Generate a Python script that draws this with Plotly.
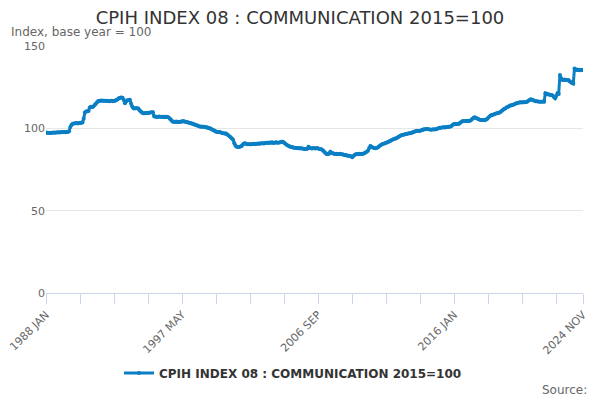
import plotly.graph_objects as go

MONTHS = ["JAN", "FEB", "MAR", "APR", "MAY", "JUN", "JUL", "AUG", "SEP", "OCT", "NOV", "DEC"]

# Monthly index values, one row per year (1988 .. 2024 Nov)
v1988 = [97.4, 97.3, 97.2, 97.3, 97.2, 97.3, 97.4, 97.3, 97.4, 97.5, 97.6, 97.5]
v1989 = [97.6, 97.7, 97.6, 97.8, 97.6, 97.7, 97.8, 98.2, 100.8, 102.2, 102.8, 103.0]
v1990 = [103.1, 103.2, 103.0, 103.3, 103.2, 103.4, 103.5, 105.8, 109.6, 110.2, 110.4, 110.6]
v1991 = [112.6, 113.1, 113.0, 113.3, 114.2, 115.0, 115.8, 116.6, 116.8, 116.7, 116.9, 116.8]
v1992 = [116.7, 116.8, 116.6, 116.7, 116.5, 116.6, 116.7, 116.5, 116.6, 116.8, 117.2, 117.6]
v1993 = [118.2, 118.6, 118.8, 118.6, 117.2, 115.2, 116.4, 117.0, 117.2, 117.4, 115.0, 113.2]
v1994 = [112.2, 112.1, 112.4, 112.2, 112.0, 111.0, 110.2, 109.6, 109.1, 109.1, 109.3, 109.2]
v1995 = [109.4, 109.5, 109.6, 109.8, 109.7, 107.4, 107.0, 107.1, 106.9, 107.2, 107.0, 106.9]
v1996 = [107.1, 107.0, 106.8, 107.0, 106.9, 106.6, 105.8, 105.0, 104.2, 104.0, 103.9, 104.1]
v1997 = [104.0, 103.8, 103.9, 104.1, 104.2, 104.4, 104.1, 104.0, 103.8, 103.6, 103.4, 103.2]
v1998 = [103.0, 102.8, 102.4, 102.2, 101.8, 101.5, 101.2, 101.0, 101.1, 100.9, 101.0, 100.8]
v1999 = [100.7, 100.5, 100.2, 100.0, 99.6, 99.2, 98.8, 98.4, 97.9, 97.8, 97.6, 97.7]
v2000 = [97.4, 97.2, 97.0, 96.8, 96.9, 96.4, 95.8, 95.2, 94.6, 93.9, 93.0, 91.0]
v2001 = [89.4, 88.8, 88.6, 88.7, 88.9, 89.2, 90.2, 90.8, 90.9, 90.5, 90.4, 90.3]
v2002 = [90.4, 90.3, 90.5, 90.6, 90.4, 90.6, 90.7, 90.8, 90.6, 90.9, 91.0, 90.8]
v2003 = [91.0, 91.2, 91.3, 91.1, 91.4, 91.2, 91.5, 91.1, 91.3, 91.6, 91.4, 91.2]
v2004 = [91.4, 91.6, 91.8, 91.9, 91.2, 90.6, 90.1, 89.6, 89.2, 88.8, 88.6, 88.4]
v2005 = [88.3, 88.1, 88.0, 87.9, 88.0, 87.8, 87.9, 87.7, 87.6, 87.5, 87.4, 87.6]
v2006 = [88.8, 88.2, 87.9, 87.8, 88.0, 87.9, 87.8, 88.0, 87.7, 87.5, 87.4, 87.2]
v2007 = [86.6, 85.8, 85.0, 84.4, 84.6, 84.5, 85.8, 85.2, 84.8, 84.6, 84.4, 84.5]
v2008 = [84.3, 84.4, 84.5, 84.3, 84.2, 84.0, 83.8, 83.6, 83.4, 83.3, 83.4, 83.0]
v2009 = [82.4, 83.2, 83.8, 84.2, 84.4, 84.3, 84.5, 84.4, 84.6, 84.5, 84.9, 85.3]
v2010 = [85.8, 86.4, 88.0, 89.3, 88.8, 88.3, 88.0, 87.9, 88.0, 88.3, 88.9, 89.6]
v2011 = [90.1, 90.5, 90.7, 91.0, 91.3, 91.6, 91.9, 92.2, 92.6, 93.0, 93.4, 93.7]
v2012 = [93.9, 94.3, 94.8, 95.2, 95.6, 95.9, 96.1, 96.3, 96.5, 96.6, 96.8, 97.0]
v2013 = [97.0, 97.3, 97.6, 97.9, 98.2, 98.4, 98.5, 98.4, 98.6, 98.9, 99.2, 99.4]
v2014 = [99.5, 99.6, 99.6, 99.4, 99.3, 99.2, 99.3, 99.4, 99.3, 99.5, 99.8, 100.1]
v2015 = [100.3, 100.4, 100.5, 100.6, 100.5, 100.7, 100.8, 100.9, 101.0, 101.1, 101.6, 102.4]
v2016 = [102.6, 102.5, 102.7, 102.6, 102.8, 103.4, 104.0, 104.4, 104.3, 104.5, 104.4, 104.6]
v2017 = [104.4, 104.6, 105.0, 105.8, 106.4, 106.7, 106.3, 105.9, 105.5, 105.2, 105.0, 105.1]
v2018 = [105.0, 104.9, 105.2, 105.6, 106.4, 107.2, 107.8, 108.1, 108.3, 108.6, 108.8, 109.2]
v2019 = [109.3, 109.5, 109.9, 110.6, 111.2, 111.7, 112.1, 112.6, 113.0, 113.4, 113.8, 114.0]
v2020 = [114.1, 114.4, 114.8, 115.2, 115.4, 115.6, 115.8, 115.7, 115.9, 115.8, 115.9, 116.0]
v2021 = [116.2, 116.8, 117.2, 117.6, 117.4, 117.0, 116.7, 116.5, 116.4, 116.3, 116.2, 116.2]
v2022 = [116.1, 116.3, 116.2, 121.3, 121.0, 120.7, 120.5, 120.3, 120.2, 120.0, 119.0, 118.2]
v2023 = [119.6, 121.3, 121.0, 132.4, 130.4, 129.4, 129.3, 129.6, 129.4, 129.2, 129.3, 128.6]
v2024 = [128.0, 127.6, 127.2, 136.4, 135.4, 135.8, 135.3, 135.6, 135.2, 135.5, 135.4]

years = list(range(1988, 2025))
yearly = [v1988, v1989, v1990, v1991, v1992, v1993, v1994, v1995, v1996, v1997,
          v1998, v1999, v2000, v2001, v2002, v2003, v2004, v2005, v2006, v2007,
          v2008, v2009, v2010, v2011, v2012, v2013, v2014, v2015, v2016, v2017,
          v2018, v2019, v2020, v2021, v2022, v2023, v2024]

categories = []
values = []
for yr, row in zip(years, yearly):
    for i, v in enumerate(row):
        categories.append(f"{yr} {MONTHS[i]}")
        values.append(v)

labelled_ticks = ["1988 JAN", "1997 MAY", "2006 SEP", "2016 JAN", "2024 NOV"]
tick_step = 28
tick_idx = list(range(0, len(categories), tick_step))
if tick_idx[-1] != len(categories) - 1:
    tick_idx.append(len(categories) - 1)
tickvals = [categories[i] for i in tick_idx]
ticktext = [c if c in labelled_ticks else "" for c in tickvals]

series_name = "CPIH INDEX 08 : COMMUNICATION 2015=100"
BLUE = "#0b7fc4"
FONT = "DejaVu Sans"

fig = go.Figure()
fig.add_trace(go.Scatter(
    x=categories, y=values, mode="lines+markers", name=series_name,
    line=dict(color=BLUE, width=3),
    marker=dict(color=BLUE, size=4),
    showlegend=True,
))

fig.update_layout(
    width=600, height=400,
    margin=dict(l=46, r=17, t=46, b=107, autoexpand=False),
    paper_bgcolor="white", plot_bgcolor="white",
    font=dict(family=FONT, color="#666666", size=11),
    title=dict(text=series_name, x=0.5, xref="container", xanchor="center",
               y=0.955, yref="container", yanchor="middle",
               font=dict(family=FONT, size=18, color="#333333")),
    xaxis=dict(
        type="category", range=[0, len(categories) - 1], automargin=False,
        tickmode="array", tickvals=tickvals, ticktext=ticktext,
        tickangle=-45, ticks="outside", ticklen=10, tickcolor="#ccd6eb",
        showline=True, linecolor="#ccd6eb", linewidth=1,
        showgrid=False, zeroline=False,
        tickfont=dict(family=FONT, size=11, color="#666666"),
    ),
    yaxis=dict(
        range=[0, 150], tickvals=[0, 50, 100, 150], automargin=False,
        showgrid=True, gridcolor="#e6e6e6", gridwidth=1,
        zeroline=False, showline=False, ticks="",
        tickfont=dict(family=FONT, size=11, color="#666666"),
    ),
    legend=dict(orientation="h", x=0.46, xanchor="center", y=-0.324, yanchor="middle",
                font=dict(family=FONT, size=12, color="#333333", weight="bold"),
                itemwidth=30),
    annotations=[
        dict(text="Index, base year = 100", xref="paper", yref="paper",
             x=-0.069, y=1.057, xanchor="left", yanchor="middle", showarrow=False,
             font=dict(family=FONT, size=12, color="#666666")),
        dict(text="Source:", xref="paper", yref="paper",
             x=1.012, y=-0.393, xanchor="right", yanchor="middle", showarrow=False,
             font=dict(family=FONT, size=12, color="#666666")),
    ],
)

fig.write_html("out.html", config={"displayModeBar": False},
               post_script="document.body.style.margin='0';document.body.style.padding='0';")
